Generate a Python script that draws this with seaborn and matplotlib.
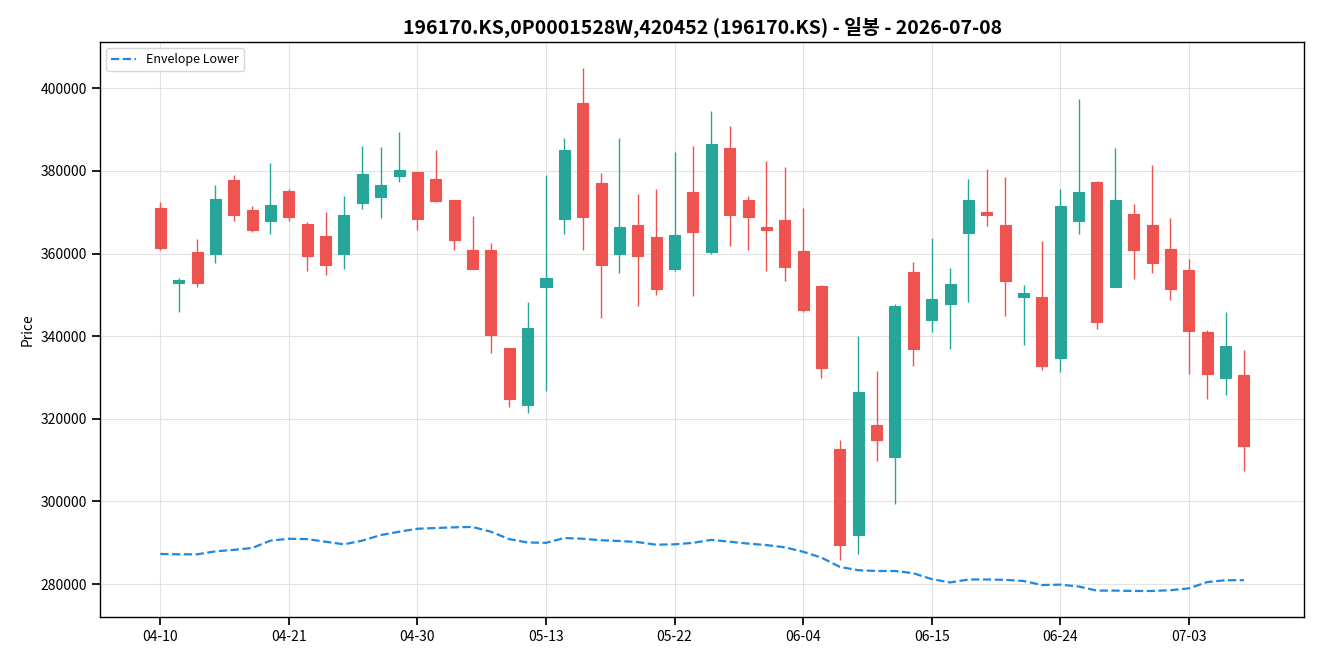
import numpy as np
import pandas as pd
import matplotlib
matplotlib.use("Agg")
import matplotlib.pyplot as plt
import seaborn as sns

# trading days (KRX) 2026-04-10 .. 2026-07-08
dates = ["04-10", "04-13", "04-14", "04-15", "04-16", "04-17", "04-20", "04-21", "04-22", "04-23",
         "04-24", "04-27", "04-28", "04-29", "04-30", "05-04", "05-06", "05-07", "05-08", "05-11",
         "05-12", "05-13", "05-14", "05-15", "05-18", "05-19", "05-20", "05-21", "05-22", "05-26",
         "05-27", "05-28", "05-29", "06-01", "06-02", "06-04", "06-05", "06-08", "06-09", "06-10",
         "06-11", "06-12", "06-15", "06-16", "06-17", "06-18", "06-19", "06-22", "06-23", "06-24",
         "06-25", "06-26", "06-29", "06-30", "07-01", "07-02", "07-03", "07-06", "07-07", "07-08"]

opens = [371150, 352870, 360300, 359860, 377780, 370610, 367920, 375090, 367120, 364160,
         359860, 372220, 373750, 378770, 379660, 378140, 373030, 360760, 360760, 337190,
         323390, 351970, 368460, 396510, 377150, 359860, 367030, 364070, 356370, 375000,
         360490, 385660, 373030, 366490, 368190, 360670, 352240, 312730, 291940, 318550,
         310850, 355650, 343910, 347850, 364880, 370160, 367030, 349380, 349560, 334770,
         367920, 377240, 351970, 369630, 367030, 361200, 356100, 341040, 329930, 330650]
highs = [372400, 354040, 363440, 376530, 379030, 371510, 381900, 375540, 367570, 370070,
         373840, 386020, 385750, 389430, 379700, 385040, 373050, 369000, 362460, 337200,
         348390, 378940, 387900, 404840, 379390, 387900, 374370, 375540, 384500, 385930,
         394450, 390860, 373840, 382350, 380920, 370970, 352300, 314970, 339970, 331460,
         347850, 357890, 363800, 356450, 377960, 380380, 378500, 352510, 363000, 375540,
         397310, 377510, 385490, 371960, 381360, 368550, 358780, 341400, 345970, 336560]
lows = [360850, 345790, 351800, 357620, 367830, 365150, 364700, 367830, 355740, 354750,
        356190, 370700, 368730, 377240, 365680, 372500, 360850, 356200, 335940, 322860,
        321420, 326710, 364790, 360850, 344360, 355290, 347320, 350090, 355830, 349730,
        359860, 361740, 360760, 355740, 353320, 345790, 329840, 285760, 287370, 309680,
        299380, 332710, 341130, 336920, 348300, 366580, 344810, 337820, 331810, 331280,
        364790, 341760, 351900, 353860, 355290, 348660, 330830, 324740, 325720, 307350]
closes = [361380, 353680, 352870, 373120, 369360, 365680, 371690, 368820, 359500, 357260,
          369270, 379210, 376700, 380200, 368460, 372760, 363350, 356280, 340330, 324830,
          342030, 354130, 385130, 368820, 357350, 366490, 359500, 351530, 364610, 365330,
          386650, 369450, 368820, 365770, 356810, 346330, 332350, 289520, 326530, 314880,
          347230, 337010, 349110, 352690, 373030, 369450, 353410, 350540, 332800, 371600,
          375000, 343550, 373030, 360930, 357800, 351530, 341310, 330920, 337640, 313450]
env_lower = [287280, 287190, 287190, 287910, 288270, 288720, 290510, 290960, 290870, 290240,
             289610, 290510, 291850, 292660, 293380, 293560, 293730, 293820, 292660, 290870,
             290060, 289970, 291140, 290960, 290600, 290420, 290150, 289520, 289610, 289970,
             290690, 290240, 289790, 289430, 288900, 287820, 286390, 284150, 283340, 283160,
             283160, 282620, 281190, 280380, 281100, 281100, 281010, 280740, 279760, 279850,
             279400, 278410, 278410, 278320, 278320, 278500, 278950, 280470, 280920, 280920]

UP = "#26a69a"
DOWN = "#ef5350"

df = pd.DataFrame({"date": dates, "open": opens, "high": highs, "low": lows,
                   "close": closes, "env": env_lower})
df["idx"] = np.arange(len(df))
df["up"] = df["close"] >= df["open"]
df["color"] = np.where(df["up"], UP, DOWN)

sns.set_theme(style="ticks")
plt.rcParams["font.family"] = ["Noto Sans CJK KR", "DejaVu Sans"]
plt.rcParams["text.color"] = "black"
plt.rcParams["axes.labelcolor"] = "black"
plt.rcParams["xtick.color"] = "black"
plt.rcParams["ytick.color"] = "black"

fig, ax = plt.subplots(figsize=(13.2, 6.6), dpi=100)
fig.subplots_adjust(left=0.0758, right=0.988, top=0.936, bottom=0.065)

# wicks
ax.vlines(df["idx"], df["low"], df["high"], colors=df["color"], linewidth=1, zorder=2)
# bodies
body_bottom = df[["open", "close"]].min(axis=1)
body_height = (df["close"] - df["open"]).abs()
ax.bar(df["idx"], body_height, bottom=body_bottom, width=0.6, color=df["color"],
       edgecolor=df["color"], linewidth=0.8, zorder=3)

sns.lineplot(data=df, x="idx", y="env", ax=ax, color="#1e88e5", linestyle="--",
             linewidth=1.6, label="Envelope Lower", zorder=4)

tick_pos = df["idx"][::7]
ax.set_xticks(tick_pos)
ax.set_xticklabels(df["date"][::7], fontsize=10)
ax.tick_params(axis="both", labelsize=10, colors="black")
ax.ticklabel_format(axis="y", style="plain", useOffset=False)

ax.grid(True, color="#dddddd", linewidth=0.8, alpha=0.8)
ax.set_axisbelow(True)
for s in ax.spines.values():
    s.set_color("black")
    s.set_linewidth(1)

ax.set_xlabel("")
ax.set_ylabel("Price", fontsize=10)
ax.set_title("196170.KS,0P0001528W,420452 (196170.KS) - 일봉 - 2026-07-08",
             fontsize=14, fontweight="bold")
leg = ax.legend(loc="upper left", fontsize=9, frameon=True)
for t in leg.get_texts():
    t.set_color("black")

fig.savefig("out.png", dpi=100)
